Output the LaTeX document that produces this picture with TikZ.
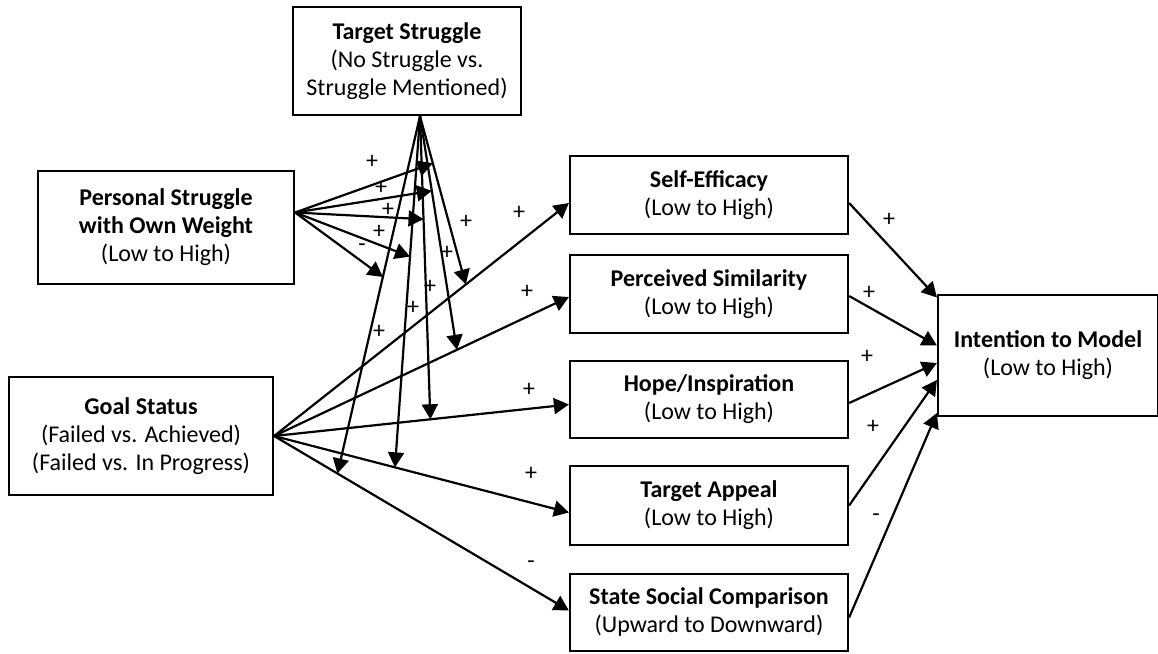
\documentclass[tikz,border=0pt]{standalone}
\usepackage{fontspec}
\setmainfont{Carlito}
\usetikzlibrary{positioning, arrows.meta, calc}

\begin{document}
\begin{tikzpicture}[
  x=1pt, y=-1pt,
  box/.style={rectangle, draw=black, line width=2.2pt, inner sep=2pt, align=center,
              font=\fontsize{24}{28}\selectfont},
  medbox/.style={box, minimum width=278pt, minimum height=78pt},
  sign/.style={inner sep=0pt, font=\fontsize{24}{28}\selectfont},
  arrow/.style={-{Triangle[length=15pt, width=16pt]}, line width=2.2pt},
]
  \useasboundingbox (0,0) rectangle (1158,653);

  % moderators and predictor
  \node[box, minimum width=228pt, minimum height=108pt] (ts) at (407,61)
       {\textbf{Target Struggle}\\(No Struggle vs.\\Struggle Mentioned)};
  \node[box, minimum width=256pt, minimum height=113pt] (ps) at (166,227.5)
       {\textbf{Personal Struggle}\\\textbf{with Own Weight}\\(Low to High)};
  \node[box, minimum width=264pt, minimum height=118pt] (gs) at (141,436)
       {\textbf{Goal Status}\\(Failed vs. Achieved)\\(Failed vs. In Progress)};

  % mediators
  \node[medbox] (se) at (709,195) {\textbf{Self-Efficacy}\\(Low to High)};
  \node[medbox] (sim) at (709,294) {\textbf{Perceived Similarity}\\(Low to High)};
  \node[medbox, minimum height=77pt] (hope) at (709,399.5) {\textbf{Hope/Inspiration}\\(Low to High)};
  \node[medbox, minimum height=79pt] (appeal) at (709,505.5) {\textbf{Target Appeal}\\(Low to High)};
  \node[medbox, minimum height=77pt] (ssc) at (709,612.5)
       {\textbf{State Social Comparison}\\(Upward to Downward)};

  % outcome
  \node[box, minimum width=220pt, minimum height=121pt] (itm) at (1048,355.5)
       {\textbf{Intention to Model}\\(Low to High)};

  % end points of the interaction arrows
  \coordinate (tsout) at ([xshift=13pt]ts.south);
  \coordinate (psout) at ([yshift=15pt]ps.east);
  \coordinate (mse) at ($(gs.east)!0.65!([yshift=-8pt]se.west)$);
  \coordinate (msim) at ($(gs.east)!0.62!([yshift=-3pt]sim.west)$);
  \coordinate (mhope) at ($(gs.east)!0.53!([yshift=-5pt]hope.west)$);
  \coordinate (mappeal) at ($(gs.east)!0.41!([yshift=-7pt]appeal.west)$);
  \coordinate (mssc) at ($(gs.east)!0.215!([yshift=2pt]ssc.west)$);
  \coordinate (nse) at ($(tsout)!0.28!(mse)$);
  \coordinate (nsim) at ($(tsout)!0.32!(msim)$);
  \coordinate (nhope) at ($(tsout)!0.34!(mhope)$);
  \coordinate (nappeal) at ($(tsout)!0.40!(mappeal)$);
  \coordinate (nssc) at ($(tsout)!0.45!(mssc)$);

  % goal status -> mediators
  \draw[arrow] (gs.east) -- ([yshift=-8pt]se.west);
  \draw[arrow] (gs.east) -- ([yshift=-3pt]sim.west);
  \draw[arrow] (gs.east) -- ([yshift=-5pt]hope.west);
  \draw[arrow] (gs.east) -- ([yshift=-7pt]appeal.west);
  \draw[arrow] (gs.east) -- ([yshift=2pt]ssc.west);

  % target struggle -> paths
  \draw[arrow] (tsout) -- (mse);
  \draw[arrow] (tsout) -- (msim);
  \draw[arrow] (tsout) -- (mhope);
  \draw[arrow] (tsout) -- (mappeal);
  \draw[arrow] (tsout) -- (mssc);

  % personal struggle -> target struggle arrows
  \draw[arrow] (psout) -- (nse);
  \draw[arrow] (psout) -- (nsim);
  \draw[arrow] (psout) -- (nhope);
  \draw[arrow] (psout) -- (nappeal);
  \draw[arrow] (psout) -- (nssc);

  % mediators -> intention
  \draw[arrow] ([yshift=-8pt]se.east) -- ([yshift=58pt]itm.west);
  \draw[arrow] ([yshift=-2pt]sim.east) -- ([yshift=10pt]itm.west);
  \draw[arrow] ([yshift=-3.5pt]hope.east) -- ([yshift=-7.5pt]itm.west);
  \draw[arrow] (appeal.east) -- ([yshift=-24.5pt]itm.west);
  \draw[arrow] ([yshift=-5pt]ssc.east) -- ([yshift=-57.5pt]itm.west);

  % signs
  \node[sign] (sps1) at (372,162) {+};
  \node[sign] (sps2) at (381,188) {+};
  \node[sign] (sps3) at (388,210) {+};
  \node[sign] (sps4) at (379,232) {+};
  \node[sign] (sps5) at (362,248) {-};
  \node[sign] (sts1) at (466,222) {+};
  \node[sign] (sts2) at (447,253) {+};
  \node[sign] (sts3) at (430,287) {+};
  \node[sign] (sts4) at (413,308) {+};
  \node[sign] (sts5) at (379,332) {+};
  \node[sign] (sgs1) at (519,213) {+};
  \node[sign] (sgs2) at (527,292) {+};
  \node[sign] (sgs3) at (529,390) {+};
  \node[sign] (sgs4) at (531,474) {+};
  \node[sign] (sgs5) at (531,565) {-};
  \node[sign] (sout1) at (889,220) {+};
  \node[sign] (sout2) at (869,293) {+};
  \node[sign] (sout3) at (867,357) {+};
  \node[sign] (sout4) at (873,427) {+};
  \node[sign] (sout5) at (876,518) {-};
\end{tikzpicture}
\end{document}
